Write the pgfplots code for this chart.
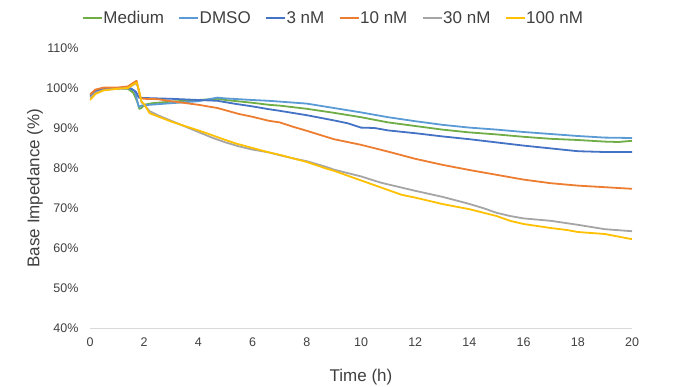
\documentclass[border=0pt]{standalone}
\usepackage{fontspec}
\setmainfont{Liberation Sans}
\usepackage{pgfplots}
\pgfplotsset{compat=1.18}
\definecolor{cMed}{HTML}{70AD47}
\definecolor{cDMSO}{HTML}{5B9BD5}
\definecolor{cThree}{HTML}{4472C4}
\definecolor{cTen}{HTML}{ED7D31}
\definecolor{cThirty}{HTML}{A5A5A5}
\definecolor{cHundred}{HTML}{FFC000}
\definecolor{txt}{HTML}{404040}
\begin{document}
\begin{tikzpicture}
\useasboundingbox (-90pt,-58pt) rectangle (603pt,328pt);
\begin{axis}[
  scale only axis,
  width=542pt, height=280pt,
  xmin=0, xmax=20, ymin=40, ymax=110,
  xtick={0,2,...,20},
  ytick={40,50,...,110},
  yticklabel={\pgfmathprintnumber{\tick}\%},
  /pgf/number format/assume math mode=true,
  axis x line*=bottom, axis y line*=left,
  y axis line style={draw=none},
  x axis line style={draw=black!15, line width=0.8pt},
  tick style={draw=none},
  ticklabel style={font=\fontsize{12.5}{14}\selectfont, text=txt},
  yticklabel style={xshift=-8pt},
  xticklabel style={yshift=-6pt},
  xlabel={Time (h)},
  ylabel={Base Impedance (\%)},
  label style={font=\fontsize{17}{20}\selectfont, text=txt},
  x label style={at={(axis description cs:0.5,-0.175)}, anchor=center},
  y label style={at={(axis description cs:-0.1015,0.5)}, anchor=center},
  legend columns=-1,
  legend style={at={(0.448,1.107)}, anchor=center, draw=none,
    font=\fontsize{17}{20}\selectfont, text=txt,
    /tikz/every even column/.append style={column sep=14pt},
    nodes={inner xsep=0.5pt}},
  legend image code/.code={\draw[#1] (0pt,0pt) -- (19pt,0pt);},
  every axis plot/.append style={line width=1.8pt, line join=round, no markers},
]
\addplot[cMed] coordinates {
(0,98.2)(0.2,99.2)(0.5,99.7)(1.0,99.9)(1.4,99.8)(1.6,98.8)(1.75,96.5)(1.82,94.8)(1.9,95.0)(2.0,95.8)(2.3,96.2)(3,96.6)(4,97.0)(4.7,97.3)(5,97.0)(6,96.3)(6.6,95.8)(7,95.6)(8,94.8)(9,93.8)(10,92.7)(11,91.4)(12,90.5)(13,89.6)(14,88.9)(15,88.4)(16,87.8)(17,87.3)(18,87.0)(19,86.6)(19.5,86.5)(20,86.8)
};
\addlegendentry{Medium}
\addplot[cDMSO] coordinates {
(0,97.8)(0.2,99.2)(0.5,99.8)(1.0,100)(1.5,99.9)(1.65,99.3)(1.75,96.5)(1.8,95.3)(1.9,95.6)(2.2,95.8)(3,96.2)(4,96.7)(4.7,97.6)(5,97.4)(6,97.0)(6.6,96.8)(7,96.6)(8,96.1)(9,95.0)(10,93.9)(11,92.7)(12,91.7)(13,90.8)(14,90.1)(15,89.6)(16,89.0)(17,88.5)(18,88.0)(19,87.6)(20,87.5)
};
\addlegendentry{DMSO}
\addplot[cThree] coordinates {
(0,98.0)(0.2,99.3)(0.5,99.8)(1.0,100)(1.5,99.9)(1.7,99.0)(1.8,97.6)(2.0,97.5)(3,97.3)(4,97.0)(4.7,96.8)(5.4,96.0)(6,95.4)(6.6,94.7)(7,94.3)(8,93.2)(9,91.9)(9.5,91.2)(10,90.1)(10.5,90.0)(11,89.4)(12,88.7)(13,87.9)(14,87.2)(15,86.4)(16,85.6)(17,84.9)(18,84.2)(19,84.0)(20,84.0)
};
\addlegendentry{3 nM}
\addplot[cTen] coordinates {
(0,98.4)(0.2,99.6)(0.5,100.1)(1.0,100.1)(1.4,100.4)(1.6,101.3)(1.72,101.8)(1.78,100)(1.85,97.5)(2.0,97.3)(2.5,97.2)(3,96.7)(4,95.8)(4.7,95.0)(5.5,93.5)(6,92.8)(6.6,91.8)(7,91.4)(7.5,90.3)(8,89.3)(9,87.2)(10,85.8)(11,84.1)(12,82.3)(13,80.8)(14,79.5)(15,78.3)(16,77.1)(17,76.2)(18,75.6)(19,75.2)(20,74.8)
};
\addlegendentry{10 nM}
\addplot[cThirty] coordinates {
(0,97.6)(0.2,98.8)(0.5,99.5)(1.0,99.8)(1.4,100.0)(1.6,100.8)(1.72,101.2)(1.8,99.5)(1.9,96.5)(2.0,95.8)(2.2,94.2)(2.5,93.2)(3,91.8)(4,89.0)(4.5,87.6)(5,86.4)(5.5,85.4)(6,84.6)(6.6,83.9)(7,83.2)(7.5,82.4)(8,81.7)(8.7,80.3)(9,79.6)(10,77.9)(10.7,76.4)(11,75.9)(12,74.3)(13,72.8)(13.9,71.2)(14.5,70.0)(15,68.8)(15.5,68.0)(16,67.4)(17,66.8)(18,65.8)(19,64.7)(20,64.2)
};
\addlegendentry{30 nM}
\addplot[cHundred] coordinates {
(0,97.0)(0.2,98.5)(0.5,99.4)(1.0,99.8)(1.4,100.0)(1.6,100.9)(1.72,101.4)(1.8,99.6)(1.9,96.6)(2.0,95.9)(2.2,93.7)(2.5,92.9)(3,91.6)(4,89.4)(4.3,88.7)(5,87.0)(5.4,86.1)(6,85.0)(6.6,83.9)(7,83.3)(7.5,82.4)(8,81.5)(8.7,79.9)(9,79.3)(10,76.9)(11,74.5)(11.5,73.3)(12,72.6)(13,71.0)(14,69.7)(15,68.0)(15.5,66.8)(16,66.0)(17,65.0)(17.6,64.5)(18,64.0)(19,63.5)(20,62.2)
};
\addlegendentry{100 nM}
\end{axis}
\end{tikzpicture}
\end{document}
